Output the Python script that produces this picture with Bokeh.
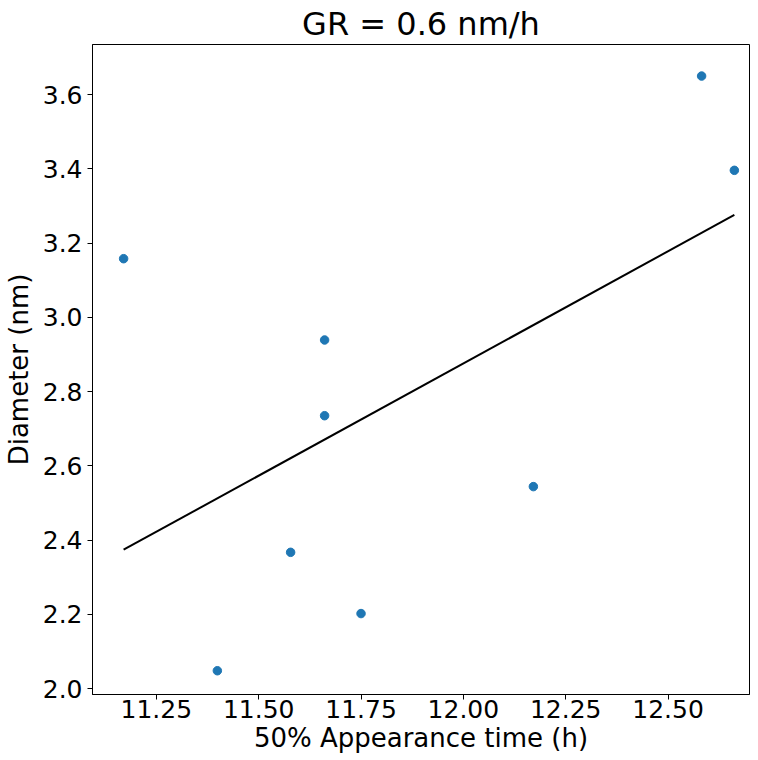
from bokeh.plotting import figure
from bokeh.models import Range1d, FixedTicker
from bokeh.embed import file_html
from bokeh.resources import INLINE

# Data
appearance_time = [11.170, 11.399, 11.578, 11.661, 11.661, 11.750, 12.171, 12.582, 12.662]
diameter = [3.158, 2.048, 2.367, 2.939, 2.735, 2.202, 2.544, 3.650, 3.396]

fit_x = [11.170, 12.662]
fit_y = [2.374, 3.276]

x_ticks = [11.25, 11.50, 11.75, 12.00, 12.25, 12.50]
x_tick_labels = ["11.25", "11.50", "11.75", "12.00", "12.25", "12.50"]
y_ticks = [2.0, 2.2, 2.4, 2.6, 2.8, 3.0, 3.2, 3.4, 3.6]
y_tick_labels = ["2.0", "2.2", "2.4", "2.6", "2.8", "3.0", "3.2", "3.4", "3.6"]

FONT = "DejaVu Sans"

p = figure(frame_width=657, frame_height=650, output_backend="svg", toolbar_location=None,
           x_range=Range1d(11.094, 12.699), y_range=Range1d(1.984, 3.735),
           min_border_left=84, min_border_right=1, min_border_top=36, min_border_bottom=0,
           title="GR = 0.6 nm/h")

p.title.text_font = FONT
p.title.text_font_size = "32px"
p.title.text_font_style = "normal"
p.title.align = "center"
p.title.text_color = "black"
p.title.offset = 0
p.title.standoff = 4

p.line(fit_x, fit_y, line_color="black", line_width=2)
p.scatter(appearance_time, diameter, size=8.5, fill_color="#1f77b4", line_color="#1f77b4")

p.xgrid.visible = False
p.ygrid.visible = False
p.outline_line_color = "black"
p.outline_line_width = 1
p.background_fill_color = "white"
p.border_fill_color = "white"

p.xaxis.ticker = FixedTicker(ticks=x_ticks)
p.xaxis.major_label_overrides = {t: l for t, l in zip(x_ticks, x_tick_labels)}
p.yaxis.ticker = FixedTicker(ticks=y_ticks)
p.yaxis.major_label_overrides = {t: l for t, l in zip(y_ticks, y_tick_labels)}

p.xaxis.axis_label = "50% Appearance time (h)"
p.yaxis.axis_label = "Diameter (nm)"

for ax in (p.xaxis[0], p.yaxis[0]):
    ax.axis_label_text_font = FONT
    ax.axis_label_text_font_size = "26px"
    ax.axis_label_text_font_style = "normal"
    ax.axis_label_text_color = "black"
    ax.major_label_text_font = FONT
    ax.major_label_text_font_size = "25px"
    ax.major_label_text_color = "black"
    ax.major_tick_in = 0
    ax.major_tick_out = 5
    ax.minor_tick_in = 0
    ax.minor_tick_out = 0
    ax.axis_line_color = "black"
    ax.major_tick_line_color = "black"

p.xaxis.major_label_standoff = 0
p.xaxis.axis_label_standoff = 2
p.yaxis.major_label_standoff = 5
p.yaxis.axis_label_standoff = 6

open("out.html", "w").write(file_html(p, INLINE))
